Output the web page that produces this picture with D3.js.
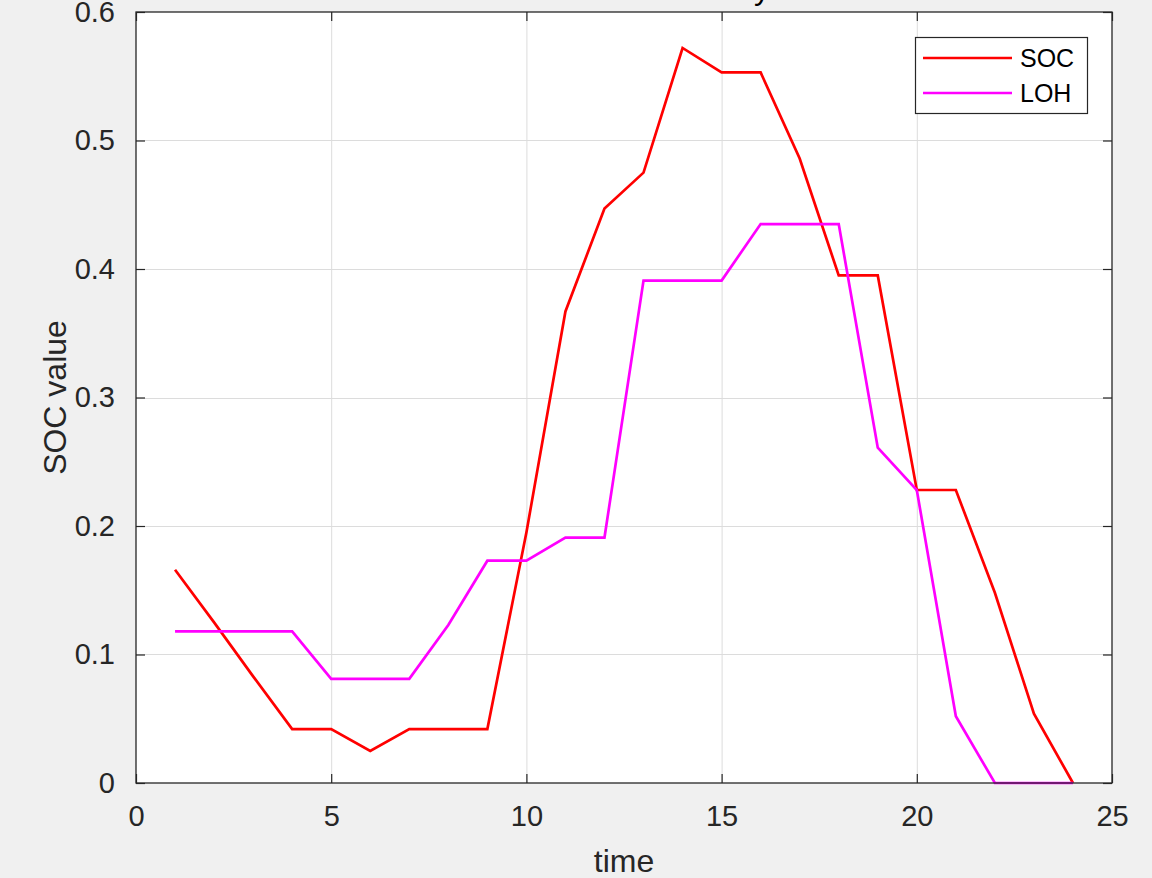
<!DOCTYPE html>
<html>
<head>
<meta charset="utf-8">
<script src="https://cdn.jsdelivr.net/npm/d3@7"></script>
<style>
  html, body { margin: 0; padding: 0; background: #f0f0f0; overflow: hidden; }
  svg { display: block; }
  text { font-family: "Liberation Sans", Arial, sans-serif; }
</style>
</head>
<body>
<svg id="chart" width="1152" height="878"></svg>
<script>
const time = [1,2,3,4,5,6,7,8,9,10,11,12,13,14,15,16,17,18,19,20,21,22,23,24];
const soc = [0.166,0.125,0.083,0.042,0.042,0.025,0.042,0.042,0.042,0.195,0.367,0.447,0.475,0.572,0.553,0.553,0.486,0.395,0.395,0.228,0.228,0.148,0.054,0.000];
const loh = [0.118,0.118,0.118,0.118,0.081,0.081,0.081,0.123,0.173,0.173,0.191,0.191,0.391,0.391,0.391,0.435,0.435,0.435,0.261,0.228,0.052,0.000,0.000,0.000];
const xTicks = [0,5,10,15,20,25];
const yTicks = [0,0.1,0.2,0.3,0.4,0.5,0.6];
const seriesNames = ["SOC","LOH"];
const seriesColors = ["#ff0000","#ff00ff"];
const titleText = "SOC state of battery";
const xLabel = "time";
const yLabel = "SOC value";

const svg = d3.select("#chart");
const L = 136, R = 1112, T = 12, B = 783;
const x = d3.scaleLinear().domain([0,25]).range([L,R]);
const y = d3.scaleLinear().domain([0,0.6]).range([B,T]);
const axisColor = "#262626";

// plot background
svg.append("rect").attr("x",L).attr("y",T).attr("width",R-L).attr("height",B-T).attr("fill","#ffffff");

// grid
const grid = svg.append("g");
grid.selectAll("line.gx").data(xTicks.slice(1,-1)).join("line")
  .attr("x1",d=>x(d)+0.5).attr("x2",d=>x(d)+0.5).attr("y1",T).attr("y2",B)
  .attr("stroke","#dcdcdc").attr("stroke-width",1);
grid.selectAll("line.gy").data(yTicks.slice(1,-1)).join("line")
  .attr("y1",d=>Math.round(y(d))+0.5).attr("y2",d=>Math.round(y(d))+0.5).attr("x1",L).attr("x2",R)
  .attr("stroke","#dcdcdc").attr("stroke-width",1);

// axes with inward ticks
const tickLen = 9;
const fmtY = d => d === 0 ? "0" : d3.format(".1f")(d);
const xAxisB = d3.axisBottom(x).tickValues(xTicks).tickSize(-tickLen).tickPadding(tickLen+13).tickFormat(d3.format("d"));
const xAxisT = d3.axisTop(x).tickValues(xTicks).tickSize(-tickLen).tickFormat("");
const yAxisL = d3.axisLeft(y).tickValues(yTicks).tickSize(-tickLen).tickPadding(tickLen+12).tickFormat(fmtY);
const yAxisR = d3.axisRight(y).tickValues(yTicks).tickSize(-tickLen).tickFormat("");

function styleAxis(g){
  g.select(".domain").remove();
  g.selectAll(".tick line").attr("stroke",axisColor).attr("stroke-width",1.2);
  g.selectAll(".tick text").attr("fill",axisColor).style("font-size","29px").style("font-family","'Liberation Sans', Arial, sans-serif");
}
svg.append("g").attr("transform",`translate(0,${B})`).call(xAxisB).call(styleAxis);
svg.append("g").attr("transform",`translate(0,${T})`).call(xAxisT).call(styleAxis);
svg.append("g").attr("transform",`translate(${L},0)`).call(yAxisL).call(styleAxis);
svg.append("g").attr("transform",`translate(${R},0)`).call(yAxisR).call(styleAxis);

// lines
const line = d3.line().x((d,i)=>x(time[i])).y(d=>y(d));
[soc, loh].forEach((s,k)=>{
  svg.append("path").datum(s).attr("d",line).attr("fill","none")
    .attr("stroke",seriesColors[k]).attr("stroke-width",2.7).attr("stroke-linejoin","miter");
});

// box
svg.append("rect").attr("x",L).attr("y",T).attr("width",R-L).attr("height",B-T)
  .attr("fill","none").attr("stroke",axisColor).attr("stroke-width",1.3);

// legend
const lg = svg.append("g");
lg.append("rect").attr("x",915.5).attr("y",37.5).attr("width",172).attr("height",76)
  .attr("fill","#ffffff").attr("stroke",axisColor).attr("stroke-width",1.2);
seriesNames.forEach((n,k)=>{
  const ly = 58 + k*35;
  lg.append("line").attr("x1",923).attr("x2",1012).attr("y1",ly).attr("y2",ly)
    .attr("stroke",seriesColors[k]).attr("stroke-width",2.7);
  lg.append("text").attr("x",1020).attr("y",ly+9).text(n)
    .attr("fill","#000000").style("font-size","25px");
});

// labels
svg.append("text").attr("x",(L+R)/2).attr("y",872).attr("text-anchor","middle")
  .attr("fill",axisColor).style("font-size","32px").text(xLabel);
svg.append("text").attr("transform",`translate(66,${(T+B)/2}) rotate(-90)`).attr("text-anchor","middle")
  .attr("fill",axisColor).style("font-size","32px").text(yLabel);
svg.append("text").attr("x",625).attr("y",-1).attr("text-anchor","middle")
  .attr("fill","#000000").style("font-size","32px").text(titleText);
</script>
</body>
</html>
